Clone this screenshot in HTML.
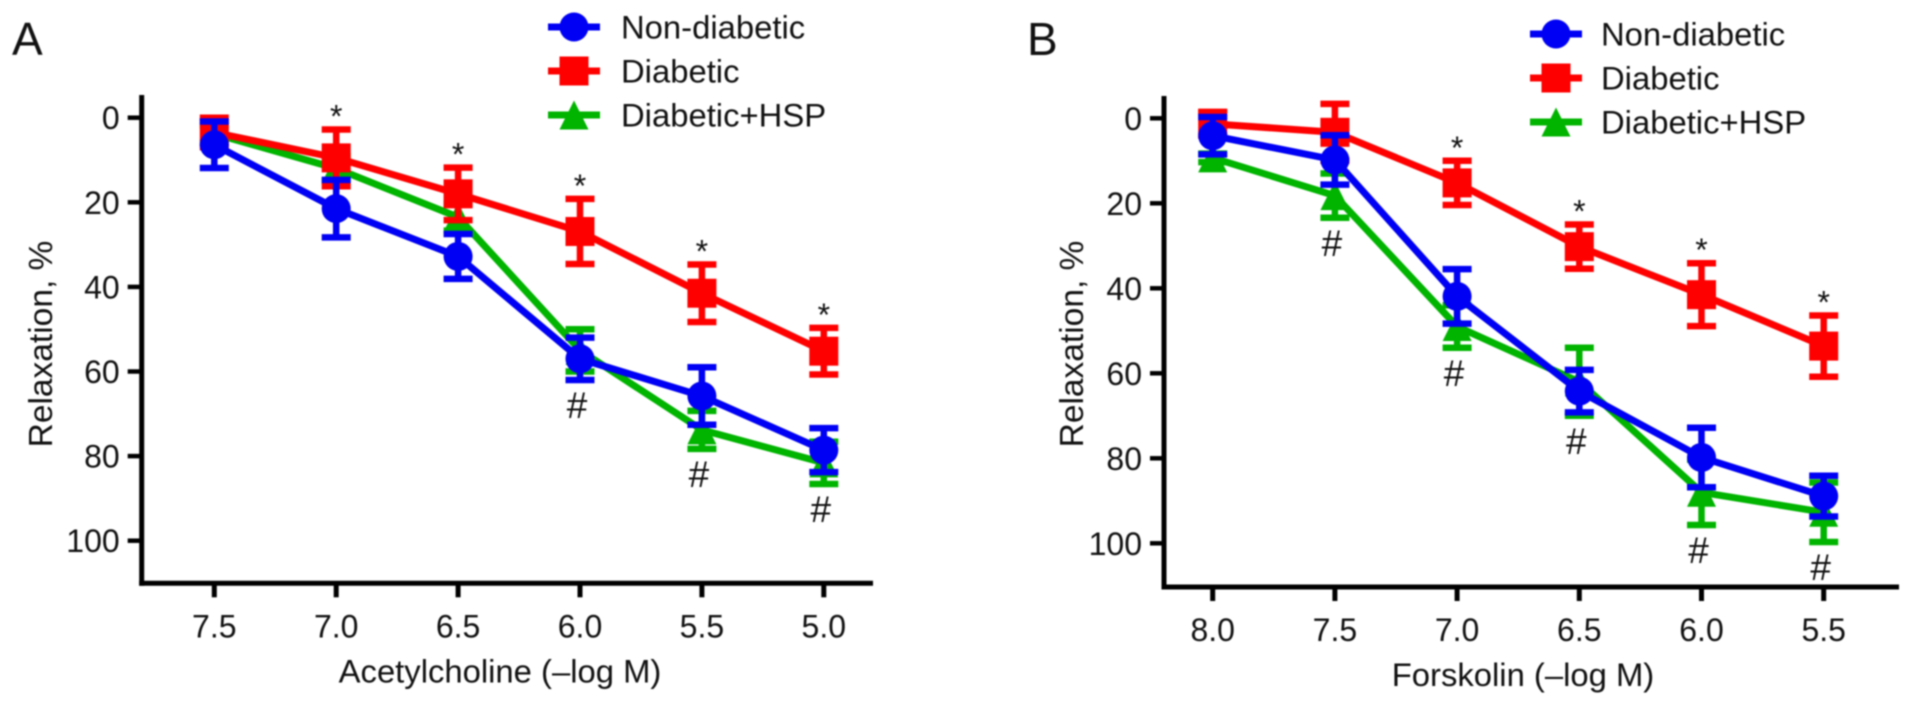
<!DOCTYPE html>
<html lang="en">
<head>
<meta charset="utf-8">
<title>Relaxation curves</title>
<style>
html,body{margin:0;padding:0;background:#fff;}
body{width:1913px;height:707px;overflow:hidden;}
svg{display:block;filter:blur(0.8px);}
text{font-family:"Liberation Sans",sans-serif;fill:#111;}
</style>
</head>
<body>
<svg id="figure" xmlns="http://www.w3.org/2000/svg" width="1913" height="707" viewBox="0 0 1913 707"></svg>
<script>
const seriesNames = ["Non-diabetic", "Diabetic", "Diabetic+HSP"];
const yTickValues = [0, 20, 40, 60, 80, 100];

const categoriesA = ["7.5", "7.0", "6.5", "6.0", "5.5", "5.0"];
const nonDiabeticA = [6.4, 21.5, 32.8, 57.0, 65.8, 78.6];
const nonDiabeticErrA = [5.5, 6.8, 5.3, 5.0, 6.8, 5.2];
const diabeticA = [3.5, 9.5, 18.0, 26.9, 41.5, 55.2];
const diabeticErrA = [3.5, 6.7, 6.2, 7.7, 6.8, 5.5];
const greenA = [3.8, 12.0, 23.5, 55.0, 73.8, 81.6];
const greenErrA = [2.0, 3.0, 3.2, 5.0, 4.5, 5.0];
const starsA = [0, 1, 1, 1, 1, 1];
const hashesA = [0, 0, 0, 1, 1, 1];

const categoriesB = ["8.0", "7.5", "7.0", "6.5", "6.0", "5.5"];
const nonDiabeticB = [4.1, 9.8, 41.9, 64.2, 79.8, 88.9];
const nonDiabeticErrB = [4.4, 5.8, 6.4, 5.0, 7.0, 4.8];
const diabeticB = [1.3, 3.3, 15.2, 30.2, 41.5, 53.6];
const diabeticErrB = [2.8, 6.7, 5.2, 5.2, 7.4, 7.2];
const greenB = [9.3, 18.2, 49.0, 62.0, 88.0, 92.7];
const greenErrB = [1.0, 5.2, 5.0, 8.0, 7.7, 7.0];
const starsB = [0, 0, 1, 1, 1, 1];
const hashesB = [0, 1, 1, 1, 1, 1];

const svg = document.getElementById('figure');
const NS = 'http://www.w3.org/2000/svg';
const BLUE = '#0000f5', RED = '#ff0000', GREEN = '#00b400';

function make(tag, attrs, parent) {
  const node = document.createElementNS(NS, tag);
  for (const k in attrs) node.setAttribute(k, attrs[k]);
  parent.appendChild(node);
  return node;
}

function marker(kind, cx, cy, color, parent) {
  let m;
  if (kind === 0) {
    m = make('circle', {cx: cx, cy: cy, r: 14.5, fill: color}, parent);
  } else if (kind === 1) {
    m = make('rect', {x: cx - 14.5, y: cy - 14.5, width: 29, height: 29, fill: color}, parent);
  } else {
    m = make('polygon', {points: (cx) + ',' + (cy - 14.5) + ' ' + (cx + 14.5) + ',' + (cy + 14.5) + ' ' + (cx - 14.5) + ',' + (cy + 14.5), fill: color}, parent);
  }
  
  
}

function drawPanel(p) {
  const g = make('g', {}, svg);
  
  
  const yScale = v => p.y0 + v * p.yUnit;
  const xScale = i => p.x0 + i * p.dx;

  const letter = make('text', {x: p.letterX, y: 55, 'font-size': 46, fill: '#111'}, g);
  letter.textContent = p.letter;
  
  

  // axes
  const yAxis = make('line', {x1: p.axisX, x2: p.axisX, y1: p.axisTop, y2: p.axisY + 2.5, stroke: '#000', 'stroke-width': 5}, g);
  
  
  const xAxis = make('line', {x1: p.axisX - 2.5, x2: p.axisEnd, y1: p.axisY, y2: p.axisY, stroke: '#000', 'stroke-width': 5}, g);
  
  

  yTickValues.forEach(v => {
    const t = make('line', {x1: p.axisX - 14, x2: p.axisX, y1: yScale(v), y2: yScale(v), stroke: '#000', 'stroke-width': 4.5}, g);
    
    
    const l = make('text', {x: p.axisX - 22, y: yScale(v) + 11.5, 'font-size': 32, 'text-anchor': 'end'}, g);
    l.textContent = v;
    
    
  });
  p.categories.forEach((c, i) => {
    const t = make('line', {x1: xScale(i), x2: xScale(i), y1: p.axisY, y2: p.axisY + 14, stroke: '#000', 'stroke-width': 5}, g);
    
    
    const l = make('text', {x: xScale(i), y: p.axisY + 54, 'font-size': 32, 'text-anchor': 'middle'}, g);
    l.textContent = c;
    
    
  });

  const xTitle = make('text', {x: p.xTitleX, y: p.axisY + 99, 'font-size': 32.8, 'text-anchor': 'middle'}, g);
  xTitle.textContent = p.xTitle;
  
  
  const yTitle = make('text', {x: 0, y: 0, 'font-size': 33.5, 'text-anchor': 'middle', transform: 'translate(' + p.yTitleX + ',344) rotate(-90)'}, g);
  yTitle.textContent = 'Relaxation, %';
  
  

  // series: draw order green, red, blue
  [2, 1, 0].forEach(s => {
    const vals = p.values[s], errs = p.errors[s], color = p.colors[s];
    const sg = make('g', {}, g);
    
    
    vals.forEach((v, i) => {
      const cx = xScale(i), top = yScale(v - errs[i]), bot = yScale(v + errs[i]);
      const stem = make('line', {x1: cx, x2: cx, y1: top, y2: bot, stroke: color, 'stroke-width': 6.5}, sg);
      
      
      [top, bot].forEach(y => {
        const cap = make('line', {x1: cx - 14.5, x2: cx + 14.5, y1: y, y2: y, stroke: color, 'stroke-width': 6.5}, sg);
        
        
      });
    });
    const line = make('polyline', {points: vals.map((v, i) => xScale(i) + ',' + yScale(v)).join(' '), fill: 'none', stroke: color, 'stroke-width': 7}, sg);
    
    
    vals.forEach((v, i) => marker(s, xScale(i), yScale(v), color, sg));
  });

  // significance marks
  p.stars.forEach((f, i) => {
    if (!f) return;
    const cap = yScale(p.values[1][i] - p.errors[1][i]);
    const st = make('text', {x: xScale(i), y: cap - 20 + 18, 'font-size': 32, 'text-anchor': 'middle'}, g);
    st.textContent = '*';
    
    
  });
  p.hashes.forEach((f, i) => {
    if (!f) return;
    const low = Math.max(yScale(p.values[0][i] + p.errors[0][i]), yScale(p.values[2][i] + p.errors[2][i]));
    const h = make('text', {x: xScale(i) - 3, y: low + 38, 'font-size': 37, 'text-anchor': 'middle'}, g);
    h.textContent = '#';
    
    
  });

  // legend
  seriesNames.forEach((name, s) => {
    const cy = p.legendY[s];
    const lg = make('g', {}, g);
    
    
    const ll = make('line', {x1: p.legendX - 26, x2: p.legendX + 26, y1: cy, y2: cy, stroke: p.colors[s], 'stroke-width': 7}, lg);
    
    
    marker(s, p.legendX, cy, p.colors[s], lg);
    const lt = make('text', {x: p.legendTextX, y: cy + 11.5, 'font-size': 32.8}, lg);
    lt.textContent = name;
    
    
  });
}

drawPanel({
  letter: 'A', letterX: 12, categories: categoriesA, stars: starsA, hashes: hashesA,
  values: [nonDiabeticA, diabeticA, greenA], errors: [nonDiabeticErrA, diabeticErrA, greenErrA],
  colors: [BLUE, RED, GREEN], xTitle: 'Acetylcholine (–log M)',
  x0: 214.3, dx: 121.9, y0: 117.7, yUnit: 4.23,
  axisX: 141.7, axisTop: 95, axisY: 583.3, axisEnd: 873,
  xTitleX: 500, yTitleX: 52, legendX: 574, legendTextX: 621, legendY: [27, 71, 115]
});
drawPanel({
  letter: 'B', letterX: 1027, categories: categoriesB, stars: starsB, hashes: hashesB,
  values: [nonDiabeticB, diabeticB, greenB], errors: [nonDiabeticErrB, diabeticErrB, greenErrB],
  colors: [BLUE, RED, GREEN], xTitle: 'Forskolin (–log M)',
  x0: 1212.7, dx: 122.2, y0: 118.3, yUnit: 4.25,
  axisX: 1164, axisTop: 96, axisY: 587, axisEnd: 1899,
  xTitleX: 1523, yTitleX: 1083, legendX: 1556, legendTextX: 1601, legendY: [34, 78, 122]
});
</script>
</body>
</html>
